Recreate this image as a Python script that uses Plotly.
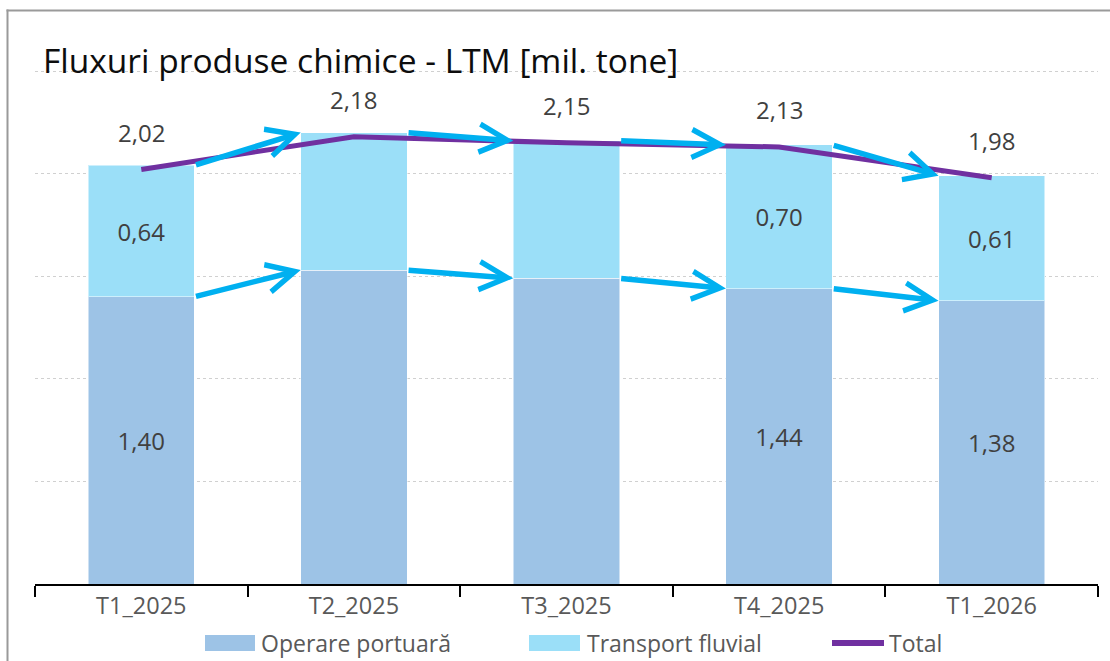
import plotly.graph_objects as go

# ---- data ----
categories = ["T1_2025", "T2_2025", "T3_2025", "T4_2025", "T1_2026"]
operare = [1.40, 1.53, 1.49, 1.44, 1.38]
transport = [0.64, 0.67, 0.67, 0.70, 0.61]
total = [2.02, 2.18, 2.15, 2.13, 1.98]
show_bar_label = [True, False, False, True, True]
series_names = ["Operare portuară", "Transport fluvial", "Total"]
title_text = "Fluxuri produse chimice - LTM [mil. tone]"

# ---- style ----
W, H = 1110, 661
ML, MR, MT, MB = 35, 12, 11, 77
PW, PH = W - ML - MR, H - MT - MB
YMAX = PH / 205.2
C_OP = "#9DC3E6"
C_TR = "#9BDFF8"
C_TOT = "#7030A0"
C_ARR = "#00B0F0"
FONT = "Open Sans"


def fmt(v):
    return f"{v:.2f}".replace(".", ",")


def px_x(px):
    return (px - ML) / PW


def px_y(py):
    return (H - MB - py) / PH


fig = go.Figure()
fig.add_bar(
    x=categories, y=operare, name=series_names[0], marker_color=C_OP,
    marker_line=dict(width=1, color="rgba(255,255,255,0.5)"),
    text=[fmt(v) if s else "" for v, s in zip(operare, show_bar_label)],
    textposition="inside", insidetextanchor="middle", textangle=0,
    textfont=dict(size=24, color="#404040", family=FONT), width=0.5,
)
fig.add_bar(
    x=categories, y=transport, name=series_names[1], marker_color=C_TR,
    marker_line=dict(width=1, color="rgba(255,255,255,0.5)"),
    text=[fmt(v) if s else "" for v, s in zip(transport, show_bar_label)],
    textposition="inside", insidetextanchor="middle", textangle=0,
    textfont=dict(size=24, color="#404040", family=FONT), width=0.5,
)
fig.add_scatter(
    x=categories, y=total, name=series_names[2], mode="lines",
    line=dict(color=C_TOT, width=5),
)

annotations = []
# total labels
for c, t in zip(categories, total):
    annotations.append(dict(
        x=c, y=t, text=fmt(t), showarrow=False, yshift=37,
        font=dict(size=24, color="#404040", family=FONT),
    ))

# arrows between bars
tops = [o + t for o, t in zip(operare, transport)]
for series in (operare, tops):
    for i in range(len(categories) - 1):
        annotations.append(dict(
            x=i + 1 - 0.25, y=series[i + 1], ax=i + 0.25, ay=series[i],
            xref="x", yref="y", axref="x", ayref="y", text="",
            showarrow=True, arrowhead=5, arrowsize=1.0, arrowwidth=5.5,
            arrowcolor=C_ARR, standoff=0,
        ))

# title
annotations.append(dict(
    x=px_x(41), y=px_y(60), xref="paper", yref="paper", xanchor="left",
    yanchor="middle", text=title_text, showarrow=False,
    font=dict(size=33.5, color="#0D0D0D", family=FONT),
))

# custom legend
shapes = []
leg_y = 643
legend_items = [
    (series_names[0], "rect", C_OP, 205, 255, 259),
    (series_names[1], "rect", C_TR, 529, 580, 585),
    (series_names[2], "line", C_TOT, 832, 884, 887),
]
for name, kind, col, x0, x1, tx in legend_items:
    if kind == "rect":
        shapes.append(dict(type="rect", xref="paper", yref="paper",
                           x0=px_x(x0), x1=px_x(x1), y0=px_y(leg_y - 8), y1=px_y(leg_y + 8),
                           fillcolor=col, line=dict(width=0)))
    else:
        shapes.append(dict(type="line", xref="paper", yref="paper",
                           x0=px_x(x0), x1=px_x(x1), y0=px_y(leg_y), y1=px_y(leg_y),
                           line=dict(color=col, width=6)))
    annotations.append(dict(
        x=px_x(tx), y=px_y(leg_y), xref="paper", yref="paper", xanchor="left",
        yanchor="middle", text=name, showarrow=False,
        font=dict(size=23, color="#595959", family=FONT),
    ))

# frame (top + left border)
shapes.append(dict(type="line", xref="paper", yref="paper",
                   x0=px_x(7.5), x1=px_x(7.5), y0=px_y(700), y1=px_y(9.5),
                   line=dict(color="#9A9A9A", width=2)))
shapes.append(dict(type="line", xref="paper", yref="paper",
                   x0=px_x(6.5), x1=px_x(1200), y0=px_y(10.5), y1=px_y(10.5),
                   line=dict(color="#9A9A9A", width=2)))

fig.update_layout(
    width=W, height=H, barmode="stack", showlegend=False,
    margin=dict(l=ML, r=MR, t=MT, b=MB),
    plot_bgcolor="white", paper_bgcolor="white",
    font=dict(family=FONT, color="#595959"),
    annotations=annotations, shapes=shapes, bargap=0.5,
)
fig.update_xaxes(
    showline=True, linecolor="#000000", linewidth=1.5,
    ticks="outside", tickson="boundaries", ticklen=11, tickcolor="#000000", tickwidth=1.5,
    tickfont=dict(size=23.5, color="#595959", family=FONT), showgrid=False,
)
fig.update_yaxes(
    range=[0, YMAX], dtick=0.5, showticklabels=False, showgrid=True,
    gridcolor="#D0D0D0", griddash="dot", gridwidth=1, zeroline=False,
)

fig.write_html(
    "out.html",
    config={"displayModeBar": False},
    post_script="document.body.style.margin='0px';document.body.style.overflow='hidden';",
)
